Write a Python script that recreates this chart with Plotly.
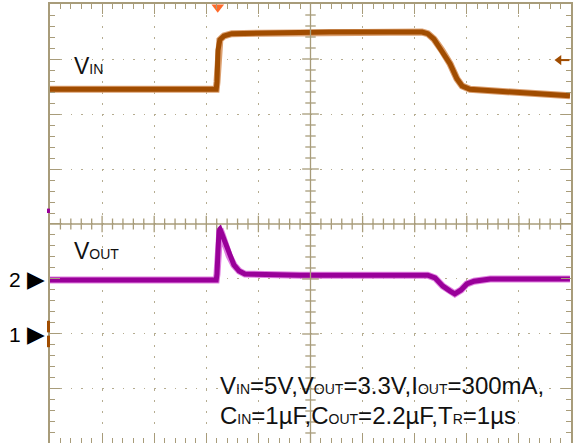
import plotly.graph_objects as go

# ---- data (scope divisions: x 0..10, y -4..4, centre = 0) ----
vin_t = [0, 3.19, 3.205, 3.225, 3.26, 3.34, 3.49, 4.03, 5.37, 7.14, 7.25, 7.37, 7.52, 7.68, 7.81, 7.91, 8.06, 8.64, 9.41, 9.98]
vin_v = [2.45, 2.45, 2.58, 3.16, 3.35, 3.42, 3.46, 3.47, 3.49, 3.49, 3.46, 3.36, 3.16, 2.91, 2.64, 2.51, 2.45, 2.42, 2.36, 2.33]

vout_t = [0, 3.19, 3.205, 3.225, 3.244, 3.263, 3.30, 3.36, 3.44, 3.53, 3.63, 3.74, 4.80, 7.25, 7.39, 7.54, 7.68, 7.77, 7.89, 8.00, 8.14, 8.45, 9.98]
vout_v = [-1.02, -1.02, -0.91, -0.29, -0.11, -0.09, -0.18, -0.38, -0.58, -0.745, -0.855, -0.91, -0.93, -0.93, -0.98, -1.13, -1.22, -1.27, -1.20, -1.09, -1.04, -1.00, -1.00]

ch_labels = ["2", "1"]
ch_offsets = [-1.0, -2.0]
trigger_t = 3.22
trigger_level = 2.98

SUB = "<span style='font-size:14px'>{}</span>"
line1 = "V" + SUB.format("IN") + "=5V,V" + SUB.format("OUT") + "=3.3V,I" + SUB.format("OUT") + "=300mA,"
line2 = "C" + SUB.format("IN") + "=1µF,C" + SUB.format("OUT") + "=2.2µF,T" + SUB.format("R") + "=1µs"

VIN_C = "#a04c00"
VOUT_C = "#990099"
GRID_C = "#b5ac90"
AX_C = "#a89c7a"
FONT = "Arial, Liberation Sans, sans-serif"

L, R, T, B = 50, 4, 4, 0
W, H = 575, 443
PW = W - L - R
PH = H - T - B
YR = [-3.982, 4]

def px_x(px):
    return px / PW

def y_paper(v):
    return (v - YR[0]) / (YR[1] - YR[0])

fig = go.Figure()
fig.add_trace(go.Scatter(x=vin_t, y=vin_v, mode="lines", line=dict(color="#dca070", width=7), hoverinfo="skip"))
fig.add_trace(go.Scatter(x=vin_t, y=vin_v, mode="lines", line=dict(color=VIN_C, width=5)))
fig.add_trace(go.Scatter(x=vout_t, y=vout_v, mode="lines", line=dict(color="#e080e0", width=7), hoverinfo="skip"))
fig.add_trace(go.Scatter(x=vout_t, y=vout_v, mode="lines", line=dict(color=VOUT_C, width=5)))

# trigger marker on top
fig.add_trace(go.Scatter(x=[trigger_t], y=[3.94], mode="markers", cliponaxis=False,
                         marker=dict(symbol="triangle-down", size=11, color="#ff6a2a")))
# trigger level arrow head on right
fig.add_trace(go.Scatter(x=[9.77], y=[trigger_level], mode="markers", cliponaxis=False,
                         marker=dict(symbol="triangle-left", size=9, color=VIN_C)))

shapes = []
# centre cross
shapes.append(dict(type="line", xref="x", yref="paper", x0=5, x1=5, y0=0, y1=1, line=dict(color=AX_C, width=1.3)))
shapes.append(dict(type="line", xref="paper", yref="y", x0=0, x1=1, y0=0, y1=0, line=dict(color=AX_C, width=1.3)))
for i in range(1, 50):
    x = i * 0.2
    h = 0.15 if i % 5 == 0 else 0.1
    shapes.append(dict(type="line", xref="x", yref="y", x0=x, x1=x, y0=-h, y1=h, line=dict(color=AX_C, width=1.3)))
for j in range(-19, 20):
    y = j * 0.2
    w = 0.16 if j % 5 == 0 else 0.1
    shapes.append(dict(type="line", xref="x", yref="y", x0=5 - w, x1=5 + w, y0=y, y1=y, line=dict(color=AX_C, width=1.3)))
# trigger level arrow shaft
shapes.append(dict(type="line", xref="x", yref="y", x0=9.8, x1=9.97, y0=trigger_level, y1=trigger_level,
                   line=dict(color=VIN_C, width=2)))
# channel 1 ground marker on the left edge
shapes.append(dict(type="rect", xref="paper", yref="y", x0=px_x(-3), x1=0, y0=-2.24, y1=-2.03, line=dict(width=0), fillcolor=VIN_C))
shapes.append(dict(type="rect", xref="paper", yref="y", x0=px_x(-3), x1=0, y0=-1.97, y1=-1.76, line=dict(width=0), fillcolor=VIN_C))
# small purple marker on the left edge
shapes.append(dict(type="rect", xref="paper", yref="y", x0=px_x(-3), x1=px_x(0), y0=0.2, y1=0.28, line=dict(width=0), fillcolor=VOUT_C))

annotations = []
for lab, off in zip(ch_labels, ch_offsets):
    annotations.append(dict(x=px_x(-3), y=y_paper(off), xref="paper", yref="paper",
                            text=lab + " <span style='font-size:23px'>▶</span>", showarrow=False,
                            xanchor="right", yanchor="middle", font=dict(family=FONT, size=21, color="#000")))
annotations.append(dict(x=0.42, y=2.87, xref="x", yref="y", xanchor="left", yanchor="middle", showarrow=False,
                        text="V<span style='font-size:14px'>IN</span>", font=dict(family=FONT, size=23, color="#111")))
annotations.append(dict(x=0.42, y=-0.49, xref="x", yref="y", xanchor="left", yanchor="middle", showarrow=False,
                        text="V<span style='font-size:14px'>OUT</span>", font=dict(family=FONT, size=23, color="#111")))
annotations.append(dict(x=3.23, y=-2.93, xref="x", yref="y", xanchor="left", yanchor="middle", showarrow=False,
                        text=line1, font=dict(family=FONT, size=24, color="#111")))
annotations.append(dict(x=3.23, y=-3.48, xref="x", yref="y", xanchor="left", yanchor="middle", showarrow=False,
                        text=line2, font=dict(family=FONT, size=24, color="#111")))

fig.update_layout(
    width=W, height=H,
    margin=dict(l=L, r=R, t=T, b=B),
    paper_bgcolor="white", plot_bgcolor="white",
    showlegend=False,
    shapes=shapes, annotations=annotations,
    xaxis=dict(range=[0, 10], dtick=1, tick0=0, showgrid=True, gridcolor=GRID_C, gridwidth=1.2,
               griddash="1.5px,9.5px", zeroline=False, showticklabels=False,
               ticks="inside", ticklen=10, tickcolor=AX_C, tickwidth=1.3,
               showline=True, linecolor=AX_C, linewidth=1.5, mirror="ticks",
               minor=dict(dtick=0.2, ticks="inside", ticklen=5, tickcolor=AX_C, tickwidth=1.3, showgrid=False)),
    yaxis=dict(range=YR, dtick=1, tick0=0, showgrid=True, gridcolor=GRID_C, gridwidth=1.2,
               griddash="1.5px,8.9px", zeroline=False, showticklabels=False,
               ticks="inside", ticklen=10, tickcolor=AX_C, tickwidth=1.3,
               showline=True, linecolor=AX_C, linewidth=1.5, mirror="ticks",
               minor=dict(dtick=0.2, ticks="inside", ticklen=5, tickcolor=AX_C, tickwidth=1.3, showgrid=False)),
)

fig.write_html("out.html", config={"displayModeBar": False},
               post_script="document.body.style.margin='0';document.body.style.overflow='hidden';")
